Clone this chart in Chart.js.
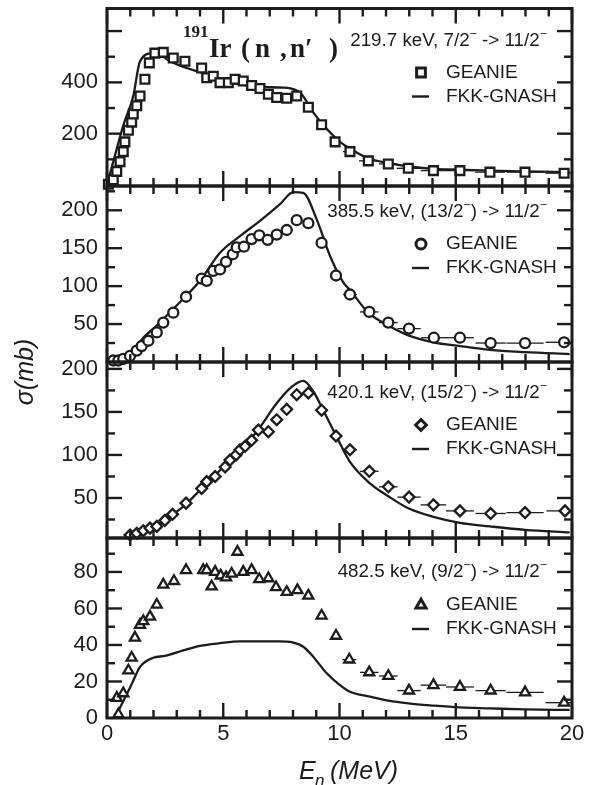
<!DOCTYPE html>
<html><head><meta charset="utf-8">
<script src="https://cdn.jsdelivr.net/npm/chart.js@4.4.1/dist/chart.umd.min.js"></script>
<style>
html,body{margin:0;padding:0;background:#fff;}
#wrap{position:relative;width:601px;height:785px;overflow:hidden;}
#wrap canvas{position:absolute;left:0;top:0;}
</style></head><body>
<div id="wrap">
<canvas id="c1" width="601" height="785"></canvas>
<canvas id="c2" width="601" height="785"></canvas>
<canvas id="c3" width="601" height="785"></canvas>
<canvas id="c4" width="601" height="785"></canvas>
</div>
<script>
// ---------------- data ----------------
const xTickLabels = [0, 5, 10, 15, 20];
const p1TickLabels = [200, 400];
const p2TickLabels = [50, 100, 150, 200];
const p3TickLabels = [50, 100, 150, 200];
const p4TickLabels = [0, 20, 40, 60, 80];

// Panel 1: 219.7 keV
const p1GeanieE     = [0.06,0.27,0.42,0.56,0.70,0.77,0.92,1.06,1.13,1.28,1.42,1.63,1.82,2.06,2.42,2.85,3.35,4.07,4.29,4.57,4.86,5.22,5.51,5.86,6.22,6.58,6.94,7.30,7.73,8.16,8.66,9.23,9.81,10.45,11.24,12.10,12.96,14.04,15.18,16.47,17.98,19.66];
const p1GeanieSigma = [3,20,53,91,130,168,213,245,277,309,347,412,476,514,517,495,482,456,418,424,399,399,412,405,388,376,354,341,338,347,303,235,168,130,94,82,65,56,56,50,50,46];
const p1GeanieErr   = [0,0,0,0,0,0,0,0,0,0,0,0,0,0,0,0,0,0,0,0,0,0,0,0,0,0,0,0,0,0,0,0,0,0.3,0.4,0.4,0.5,0.55,0.6,0.65,0.8,0.8];
const p1FkkE        = [0,0.27,0.70,1.13,1.42,1.99,2.2,2.71,3.43,4.0,4.86,5.72,6.58,7.44,7.94,8.37,8.87,9.45,10.02,10.45,11.24,12.1,12.96,14.04,15.18,16.47,17.98,19.9];
const p1FkkSigma    = [0,91,232,347,482,514,512,482,456,440,412,392,383,380,376,354,283,219,168,142,104,85,72,63,60,56,53,50];

// Panel 2: 385.5 keV
const p2GeanieE     = [0.27,0.49,0.70,0.99,1.28,1.49,1.78,2.14,2.42,2.85,3.40,4.07,4.29,4.57,4.86,5.12,5.41,5.58,5.89,6.22,6.55,6.91,7.30,7.73,8.16,8.66,9.23,9.85,10.45,11.28,12.1,12.99,14.06,15.18,16.5,17.98,19.66];
const p2GeanieSigma = [2,2,4,8,15,21,28,39,52,65,86,110,107,120,122,132,142,151,152,162,167,161,168,174,187,183,157,114,89,66,52,44,32,32,25,25,26];
const p2GeanieErr   = [0,0,0,0,0,0,0,0,0,0,0,0,0,0,0,0,0,0,0,0,0,0,0,0,0,0,0,0,0.3,0.4,0.4,0.5,0.55,0.6,0.65,0.8,0.8];
const p2FkkE        = [0.06,0.56,1.06,1.56,2.14,2.85,3.43,4.0,4.86,5.72,6.58,7.44,8.01,8.44,9.02,9.59,10.16,10.45,11.24,12.1,12.96,14.04,15.18,16.47,17.98,19.9];
const p2FkkSigma    = [0,6,13,32,48,70,88,107,144,166,186,208,224,223,188,140,105,95,65,48,35,26,21,16,13,10.5];

// Panel 3: 420.1 keV
const p3GeanieE     = [0.99,1.28,1.56,1.85,2.14,2.49,2.82,3.40,4.07,4.29,4.65,5.08,5.29,5.55,5.72,5.94,6.22,6.51,6.94,7.30,7.73,8.16,8.66,9.23,9.85,10.45,11.28,12.1,12.99,14.04,15.18,16.5,17.98,19.7];
const p3GeanieSigma = [7,9,12,15,17,24,31,44,61,69,75,86,94,100,106,110,117,129,127,141,153,170,172,152,122,106,81,63,51,42,35,32,33,35];
const p3GeanieErr   = [0,0,0,0,0,0,0,0,0,0,0,0,0,0,0,0,0,0,0,0,0,0,0,0,0,0.3,0.4,0.4,0.5,0.55,0.6,0.65,0.8,0.8];
const p3FkkE        = [0.92,1.56,2.28,3.28,4.14,5.0,5.72,6.44,7.3,7.94,8.44,8.87,9.30,9.88,10.45,11.31,12.1,12.96,14.04,15.18,16.47,17.98,19.9];
const p3FkkSigma    = [5,13,21,40,63,86,106,127,160,179,186,174,152,121,92,67,52,38,28,21,17,13,10];

// Panel 4: 482.5 keV
const p4GeanieE     = [0.49,0.42,0.70,0.92,1.06,1.20,1.42,1.56,1.85,2.14,2.42,2.88,3.40,4.14,4.29,4.50,4.65,4.89,5.12,5.36,5.61,5.86,6.22,6.55,6.94,7.27,7.73,8.19,8.66,9.23,9.85,10.42,11.28,12.1,12.99,14.04,15.18,16.5,17.98,19.66];
const p4GeanieSigma = [2,11,13.5,26,33,44,51,53,55.5,62,73,75,81,81,81,72,80,78,77,79,91,80,81,76,76.5,71.6,69,70,67,56,45,32,25,23,15,18,17,15,14,8.4];
const p4GeanieErr   = [0,0,0,0,0,0,0,0,0,0,0,0,0,0,0,0,0,0,0,0,0,0,0,0,0,0,0,0,0,0,0,0.3,0.4,0.4,0.5,0.55,0.6,0.65,0.8,0.8];
const p4FkkE        = [0.34,0.85,1.08,1.42,1.99,2.49,3.28,4.0,4.86,5.72,6.58,7.44,7.94,8.44,8.87,9.45,10.02,10.45,11.31,12.1,12.96,14.04,15.18,16.47,17.98,19.9];
const p4FkkSigma    = [0,13,19,28,33,34,37,39.5,41,42,42,42,41.5,39,33.6,24.5,18,14.4,11.7,9.5,8,6.8,5.8,5.3,4.7,4.4];

const p1Note = [["219.7 keV, 7/2",0],["\u2212",1],[" -> 11/2",0],["\u2212",1]];
const p2Note = [["385.5 keV, (13/2",0],["\u2212",1],[") -> 11/2",0],["\u2212",1]];
const p3Note = [["420.1 keV, (15/2",0],["\u2212",1],[") -> 11/2",0],["\u2212",1]];
const p4Note = [["482.5 keV, (9/2",0],["\u2212",1],[") -> 11/2",0],["\u2212",1]];
const legendLabels = ["GEANIE", "FKK-GNASH"];

// ---------------- style ----------------
const INK = '#1c1c1c';
const SANS = '"Liberation Sans", Arial, Helvetica, sans-serif';
const SERIF = '"Liberation Serif", "Times New Roman", serif';
const PLOT_LEFT = 107, PLOT_RIGHT = 572, W = 601, H = 785;

const panels = [
  {id:'c1', top:8,   bottom:186, yMin:-4,  yMax:688,  major:200, minor:100, ticks:p1TickLabels, marker:'rect',     r:6.2,
   gE:p1GeanieE, gS:p1GeanieSigma, gErr:p1GeanieErr, fE:p1FkkE, fS:p1FkkSigma, note:p1Note, noteDy:32, legDy:[64,88], title:true},
  {id:'c2', top:186, bottom:362, yMin:0,   yMax:232,  major:50,  minor:25,  ticks:p2TickLabels, marker:'circle',   r:5,
   gE:p2GeanieE, gS:p2GeanieSigma, gErr:p2GeanieErr, fE:p2FkkE, fS:p2FkkSigma, note:p2Note, noteDy:26, legDy:[58,82]},
  {id:'c3', top:362, bottom:538, yMin:3.5, yMax:208,  major:50,  minor:25,  ticks:p3TickLabels, marker:'rectRot',  r:5.4,
   gE:p3GeanieE, gS:p3GeanieSigma, gErr:p3GeanieErr, fE:p3FkkE, fS:p3FkkSigma, note:p3Note, noteDy:31, legDy:[63,87]},
  {id:'c4', top:538, bottom:718, yMin:0,   yMax:98.6, major:20,  minor:10,  ticks:p4TickLabels, marker:'triangle', r:5.8,
   gE:p4GeanieE, gS:p4GeanieSigma, gErr:p4GeanieErr, fE:p4FkkE, fS:p4FkkSigma, note:p4Note, noteDy:34, legDy:[67,91], bottomAxis:true},
];

function line(ctx, x0, y0, x1, y1) { ctx.beginPath(); ctx.moveTo(x0, y0); ctx.lineTo(x1, y1); ctx.stroke(); }

function drawRich(ctx, segs, x, y) {
  const base = '18.8px ' + SANS, sup = '12.5px ' + SANS;
  let w = 0;
  segs.forEach(s => { ctx.font = s[1] ? sup : base; w += ctx.measureText(s[0]).width; });
  let cx = x - w;
  ctx.textAlign = 'left'; ctx.textBaseline = 'middle';
  segs.forEach(s => {
    ctx.font = s[1] ? sup : base;
    ctx.fillText(s[0], cx, s[1] ? y - 6 : y);
    cx += ctx.measureText(s[0]).width;
  });
}

function makePlugin(cfg) {
  return {
    id: 'deco' + cfg.id,
    beforeDatasetsDraw(chart) {
      const {ctx} = chart, xs = chart.scales.x, ys = chart.scales.y;
      ctx.save();
      ctx.strokeStyle = INK; ctx.lineWidth = 1.3;
      cfg.gE.forEach((e, i) => {
        const err = cfg.gErr[i];
        if (!err) return;
        const x0 = xs.getPixelForValue(Math.max(0, e - err));
        const x1 = xs.getPixelForValue(Math.min(20, e + err));
        const py = ys.getPixelForValue(cfg.gS[i]);
        line(ctx, x0, py, x1, py);
      });
      ctx.restore();
    },
    afterDraw(chart) {
      const {ctx, chartArea: a} = chart, xs = chart.scales.x, ys = chart.scales.y;
      ctx.save();
      ctx.strokeStyle = INK; ctx.fillStyle = INK;
      // inward ticks
      ctx.lineWidth = 2.4;
      for (let v = 0; v <= 20; v++) {
        const px = xs.getPixelForValue(v);
        const len = v % 5 === 0 ? 15 : 8;
        line(ctx, px, a.bottom, px, a.bottom - len);
        line(ctx, px, a.top, px, a.top + len);
      }
      for (let v = Math.ceil(cfg.yMin / cfg.minor) * cfg.minor; v <= cfg.yMax; v += cfg.minor) {
        const py = ys.getPixelForValue(v);
        if (py > a.bottom - 2 || py < a.top + 2) continue;
        const len = (Math.round(v) % cfg.major === 0) ? 15 : 8;
        line(ctx, a.left, py, a.left + len, py);
        line(ctx, a.right, py, a.right - len, py);
      }
      // frame
      ctx.lineWidth = 3;
      ctx.strokeRect(a.left, a.top, a.right - a.left, a.bottom - a.top);
      // annotation
      drawRich(ctx, cfg.note, a.right - 25, a.top + cfg.noteDy);
      // legend
      const mx = 421, tx = 446;
      const ly0 = a.top + cfg.legDy[0], ly1 = a.top + cfg.legDy[1];
      ctx.fillStyle = '#fff'; ctx.strokeStyle = INK;
      Chart.helpers.drawPoint(ctx, {pointStyle: cfg.marker, radius: cfg.r, borderWidth: 2.3, rotation: 0}, mx, ly0);
      ctx.fillStyle = INK;
      ctx.lineWidth = 2.4;
      line(ctx, mx - 9, ly1, mx + 8, ly1);
      ctx.font = '19px ' + SANS; ctx.textAlign = 'left'; ctx.textBaseline = 'middle';
      ctx.fillText(legendLabels[0], tx, ly0);
      ctx.fillText(legendLabels[1], tx, ly1);
      if (cfg.title) {
        ctx.textBaseline = 'alphabetic';
        ctx.font = 'bold 17px ' + SERIF;
        ctx.fillText('191', 183, 37);
        ctx.font = 'bold 27px ' + SERIF;
        [['Ir',209],['(',241],['n',255],[',',280],['n\u2032',290],[')',329]].forEach(p => ctx.fillText(p[0], p[1], 57));
      }
      if (cfg.bottomAxis) {
        // axis titles
        ctx.textBaseline = 'alphabetic'; ctx.textAlign = 'left';
        ctx.font = 'italic 25px ' + SANS;
        ctx.fillText('E', 299, 779);
        ctx.font = 'italic 17px ' + SANS;
        ctx.fillText('n', 315, 786);
        ctx.font = 'italic 25px ' + SANS;
        ctx.fillText('(MeV)', 330, 779);
        ctx.save();
        ctx.translate(33, 372);
        ctx.rotate(-Math.PI / 2);
        ctx.textAlign = 'center';
        ctx.fillText('\u03c3(mb)', 0, 0);
        ctx.restore();
      }
      ctx.restore();
    }
  };
}

panels.forEach(cfg => {
  const xAxisH = cfg.bottomAxis ? (H - cfg.bottom) : 0;
  new Chart(document.getElementById(cfg.id), {
    type: 'scatter',
    data: {
      datasets: [
        {
          label: legendLabels[0],
          data: cfg.gE.map((e, i) => ({x: e, y: cfg.gS[i]})),
          pointStyle: cfg.marker, pointRadius: cfg.r, pointBorderWidth: 2.3,
          borderColor: INK, backgroundColor: '#fff', showLine: false, clip: false
        },
        {
          label: legendLabels[1],
          data: cfg.fE.map((e, i) => ({x: e, y: cfg.fS[i]})),
          showLine: true, pointRadius: 0, borderColor: INK, borderWidth: 2.3,
          cubicInterpolationMode: 'monotone', fill: false
        }
      ]
    },
    options: {
      responsive: false, animation: false, events: [],
      layout: {padding: {left: 0, right: W - PLOT_RIGHT, top: cfg.top, bottom: cfg.bottomAxis ? 0 : H - cfg.bottom}},
      plugins: {legend: {display: false}, tooltip: {enabled: false}},
      scales: {
        x: {
          type: 'linear', min: 0, max: 20, display: !!cfg.bottomAxis,
          grid: {display: false, drawTicks: false}, border: {display: false},
          ticks: {color: INK, padding: 3, autoSkip: false, maxRotation: 0, font: {family: SANS, size: 22}},
          afterBuildTicks: s => { s.ticks = xTickLabels.map(v => ({value: v})); },
          afterFit: s => { s.height = xAxisH; s.paddingLeft = 0; s.paddingRight = 0; }
        },
        y: {
          type: 'linear', min: cfg.yMin, max: cfg.yMax,
          grid: {display: false, drawTicks: false}, border: {display: false},
          ticks: {color: INK, padding: 9, autoSkip: false, font: {family: SANS, size: 22}},
          afterBuildTicks: s => { s.ticks = cfg.ticks.map(v => ({value: v})); },
          afterFit: s => { s.width = PLOT_LEFT; s.paddingTop = 0; s.paddingBottom = 0; }
        }
      }
    },
    plugins: [makePlugin(cfg)]
  });
});
</script>
</body></html>
